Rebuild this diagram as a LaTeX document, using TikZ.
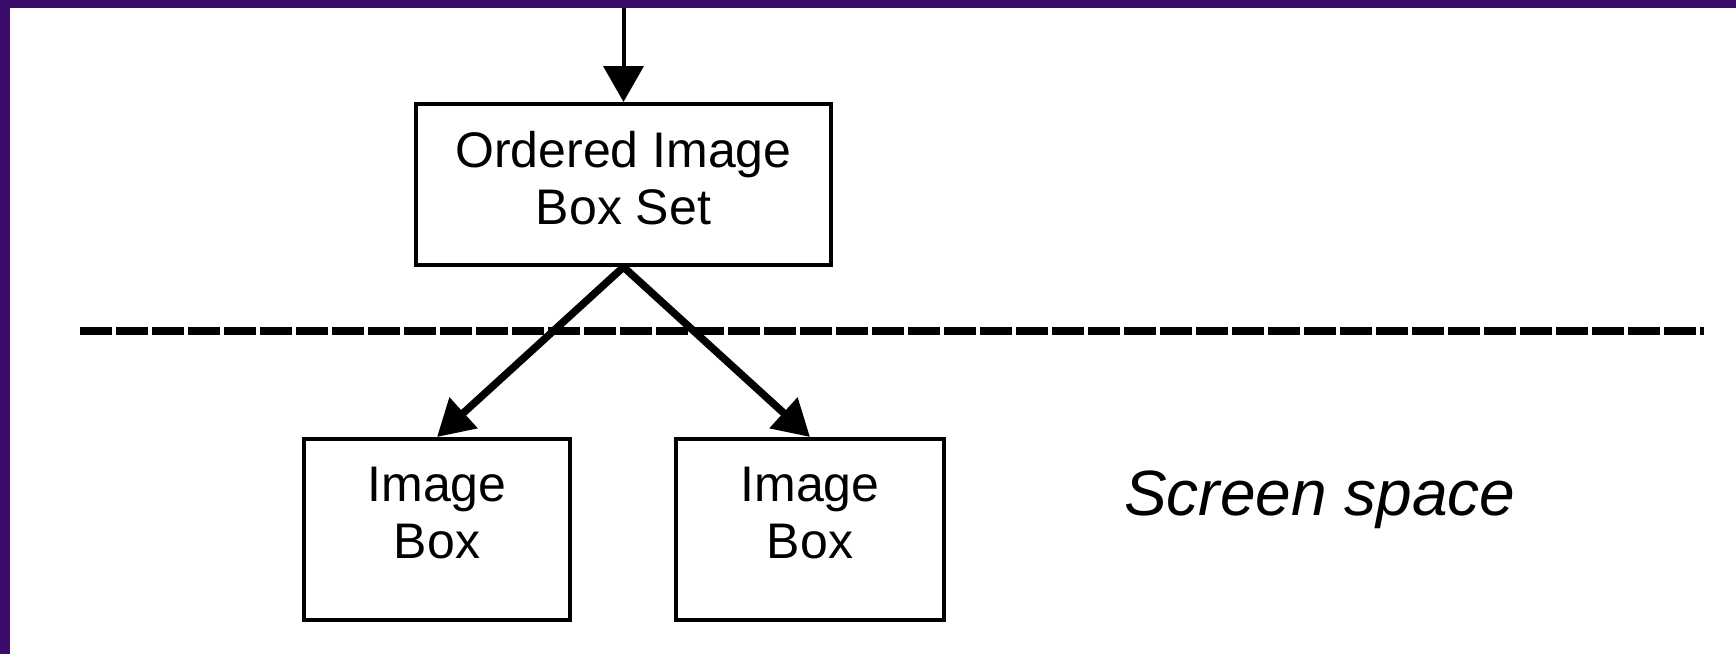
\documentclass[tikz,border=0pt]{standalone}
\usepackage{fontspec}
\setmainfont{Liberation Sans}
\usetikzlibrary{arrows.meta}
\definecolor{framepurple}{RGB}{60,12,108}
\begin{document}
\begin{tikzpicture}[x=1pt,y=-1pt,
  box/.style={draw, line width=4pt, inner sep=0pt, align=center,
    font=\fontsize{50}{57.5}\selectfont},
  link/.style={line width=7.5pt, -{Triangle[width=40pt,length=36pt]}},
  separator/.style={line width=8pt, dash pattern=on 32pt off 4pt}]
  % canvas
  \fill[white] (0,0) rectangle (1736,654);
  \useasboundingbox (0,0) rectangle (1736,654);

  % boxes
  \node[box, minimum width=415pt, minimum height=161pt] (set) at (623.5,184.5)
    {Ordered Image\\Box Set\rule[-13pt]{0pt}{13pt}};
  \node[box, minimum width=266pt, minimum height=181pt] (lb) at (437,529.5)
    {Image\\Box\rule[-33pt]{0pt}{33pt}};
  \node[box, minimum width=268pt, minimum height=181pt] (rb) at (810,529.5)
    {Image\\Box\rule[-33pt]{0pt}{33pt}};

  % label
  \node[anchor=base west, inner sep=0pt, font=\fontsize{64}{70}\selectfont\itshape]
    (space) at (1124,515) {Screen space};

  % separator line
  \coordinate (dl) at (80,331);
  \coordinate (dr) at (1704,331);
  \draw[separator] (dl) -- (dr);

  % connectors
  \coordinate (feed) at (623.5,8);
  \draw[link, line width=4pt] (feed) -- (set.north);
  \draw[link] (set.south) -- (lb.north);
  \draw[link] (set.south) -- (rb.north);

  % frame strips
  \fill[framepurple] (0,0) rectangle (1736,8);
  \fill[framepurple] (0,0) rectangle (10,654);
\end{tikzpicture}
\end{document}
